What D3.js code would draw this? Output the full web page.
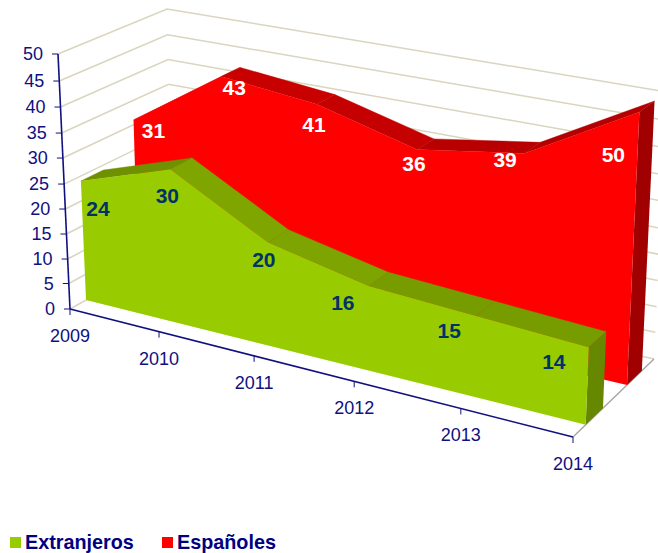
<!DOCTYPE html>
<html><head><meta charset="utf-8">
<script src="https://cdn.jsdelivr.net/npm/d3@7"></script>
<style>html,body{margin:0;padding:0;background:#fff}svg{display:block}text{font-family:"Liberation Sans",Arial,sans-serif}</style>
</head><body><div id="c"></div>
<script>
const years = ["2009","2010","2011","2012","2013","2014"];
const extranjeros = [24,30,20,16,15,14];
const espanoles = [31,43,41,36,39,50];
const yTicks = [0,5,10,15,20,25,30,35,40,45,50];

const W = 658, H = 553;
const navy = "#10107f";
const svg = d3.select("#c").append("svg").attr("width",W).attr("height",H);

// Box corners of the 3D plot: [category end][depth][bottom/top]
const box = {
  fb:[[70,309],[573,437]], ft:[[58,54],[584,152]],
  bb:[[172,252],[654,359]], bt:[[167,9],[667,92]]
};
const catFrac = d3.scaleLinear().domain(d3.range(6)).range([0,.177,.366,.565,.777,1]);
// perspective makes the value axis slightly uneven
const valFrac = d3.scaleLinear().domain(yTicks).range([0,.1,.196,.294,.392,.49,.592,.69,.792,.894,1]);
const mix = (a,b,t)=>[a[0]+(b[0]-a[0])*t,a[1]+(b[1]-a[1])*t];
function P(i,d,v){
  const t = catFrac(i);
  const bottom = mix(mix(box.fb[0],box.fb[1],t),mix(box.bb[0],box.bb[1],t),d);
  const top = mix(mix(box.ft[0],box.ft[1],t),mix(box.bt[0],box.bt[1],t),d);
  return mix(bottom,top,valFrac(v));
}
const poly = d3.line().curve(d3.curveLinearClosed);
const seg = d3.line();

// walls
const grid = svg.append("g").attr("fill","none").attr("stroke","#D9D5BF").attr("stroke-width",1.5);
grid.selectAll("path").data(yTicks).join("path")
  .attr("d",v=>seg([P(0,0,v),P(0,1,v),P(5,1,v)]));
svg.append("path").attr("d",seg([P(5,0,0),P(5,1,0)])).attr("stroke","#A6A6A6").attr("stroke-width",1.4).attr("fill","none");

function series(values,d0,d1,front,tops,side,labelColor,nudge){
  const g = svg.append("g");
  g.selectAll("path.top").data(d3.range(5)).join("path").attr("class","top")
    .attr("fill",i=>tops[i]).attr("stroke",i=>tops[i]).attr("stroke-width",.4)
    .attr("d",i=>poly([P(i,d0,values[i]),P(i,d1,values[i]),P(i+1,d1,values[i+1]),P(i+1,d0,values[i+1])]));
  g.append("path").attr("fill",side)
    .attr("d",poly([P(5,d0,values[5]),P(5,d1,values[5]),P(5,d1,0),P(5,d0,0)]));
  const outline = values.map((v,i)=>P(i,d0,v)).concat([P(5,d0,0),P(0,d0,0)]);
  g.append("path").attr("fill",front).attr("d",poly(outline));
  g.selectAll("text").data(values).join("text")
    .attr("x",(v,i)=>P(i,d0,v)[0]+nudge[i][0])
    .attr("y",(v,i)=>P(i,d0,v)[1]+nudge[i][1])
    .attr("text-anchor","middle").attr("dominant-baseline","central")
    .attr("font-size",21).attr("font-weight","bold").attr("fill",labelColor)
    .text(v=>v);
}
series(espanoles,.667,.85,"#FF0000",["#C80000","#C80000","#C40000","#B80000","#B40000"],"#A00000","#FFFFFF",
  [[20,11],[13,11],[-3,20],[-3,14],[-19,6],[-26,43]]);
series(extranjeros,.157,.37,"#99CC00",["#6F9000","#7FA600","#7DA400","#769C00","#769C00"],"#668800","#003366",
  [[17,28],[-3,26],[-4,17],[-26,17],[-27,15],[-35,14]]);

// axes
const axis = svg.append("g").attr("fill","none").attr("stroke",navy);
axis.append("path").attr("stroke-width",1.6).attr("d",seg([P(0,0,0),P(0,0,50)]));
axis.append("path").attr("stroke-width",1.6).attr("d",seg([P(0,0,0),P(5,0,0)]));
axis.selectAll("path.yt").data(yTicks).join("path").attr("class","yt")
  .attr("d",v=>{const p=P(0,0,v);return seg([p,[p[0]-6,p[1]]]);});
axis.selectAll("path.xt").data(years).join("path").attr("class","xt")
  .attr("d",(y,i)=>{const p=P(i,0,0);return seg([p,[p[0],p[1]+6]]);});

svg.append("g").selectAll("text").data(yTicks).join("text")
  .attr("x",v=>P(0,0,v)[0]-15).attr("y",v=>P(0,0,v)[1])
  .attr("text-anchor","end").attr("dominant-baseline","central")
  .attr("font-size",18).attr("fill",navy).text(v=>v);
svg.append("g").selectAll("text").data(years).join("text")
  .attr("x",(y,i)=>P(i,0,0)[0]).attr("y",(y,i)=>P(i,0,0)[1]+27)
  .attr("text-anchor","middle").attr("dominant-baseline","central")
  .attr("font-size",18).attr("fill",navy).text(y=>y);

// legend
const legendNames = ["Extranjeros","Españoles"];
const legendColors = ["#99CC00","#FF0000"];
const legendX = [10,162];
const lg = svg.append("g").selectAll("g").data(legendNames).join("g")
  .attr("transform",(n,i)=>`translate(${legendX[i]},537)`);
lg.append("rect").attr("width",11).attr("height",11).attr("fill",(n,i)=>legendColors[i]);
lg.append("text").attr("x",15).attr("y",4.5).attr("dominant-baseline","central")
  .attr("font-size",19.8).attr("font-weight","bold").attr("fill","#000080").text(n=>n);
</script></body></html>
